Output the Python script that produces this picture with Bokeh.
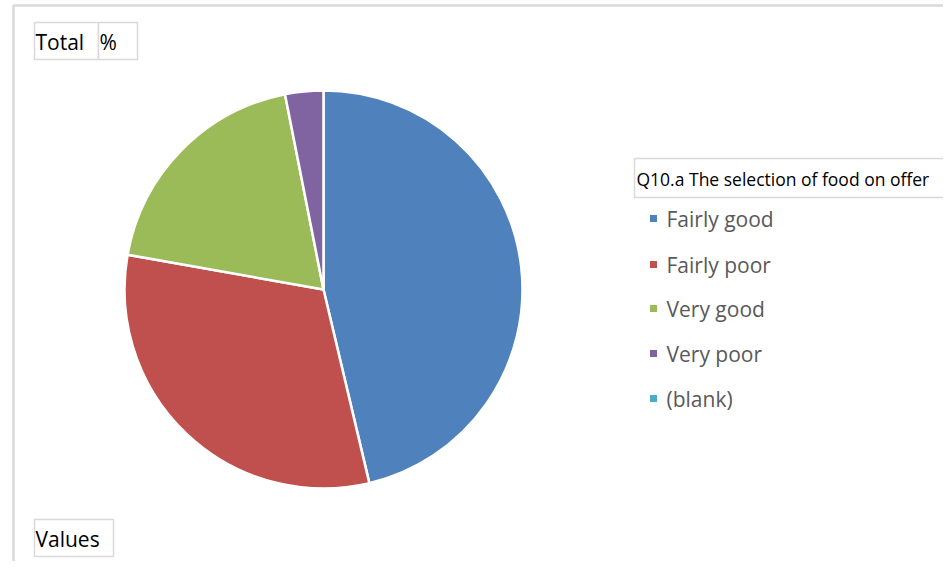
import math
from bokeh.plotting import figure
from bokeh.models import Range1d, ColumnDataSource
from bokeh.core.properties import value
from bokeh.embed import file_html
from bokeh.resources import INLINE

# ---- data ----
categories = ["Fairly good", "Fairly poor", "Very good", "Very poor", "(blank)"]
values = [46.3, 31.5, 19.1, 3.1, 0.0]
colors = ["#4F81BD", "#C0504D", "#9BBB59", "#8064A2", "#4BACC6"]
legend_title = "Q10.a The selection of food on offer"
filter_labels = ["Total", "%"]
values_label = "Values"

W, H = 943, 561
FONT = "Open Sans"

def X(px):
    return px

def Y(py):
    return H - py

p = figure(width=W, height=H, output_backend="svg", toolbar_location=None,
           x_range=Range1d(0, W), y_range=Range1d(0, H),
           min_border=0, min_border_left=0, min_border_right=0,
           min_border_top=0, min_border_bottom=0)
p.axis.visible = False
p.grid.visible = False
p.outline_line_color = None
p.background_fill_color = "white"
p.border_fill_color = "white"

# outer chart frame (light gray)
p.line([X(13), X(13), X(960)], [Y(580), Y(5), Y(5)], line_color="#d9d9d9", line_width=2.5)

# pie (zero-valued slices are not drawn)
total = sum(values)
starts, ends, cols, vals = [], [], [], []
cum = 0.0
for v, c in zip(values, colors):
    s = math.pi / 2 - 2 * math.pi * cum / total
    cum += v
    e = math.pi / 2 - 2 * math.pi * cum / total
    if v > 0:
        starts.append(s)
        ends.append(e)
        cols.append(c)
        vals.append(v)
src = ColumnDataSource(dict(start=starts, end=ends, color=cols, v=vals))
cx, cy, r = X(323), Y(289), 199
p.wedge(x=cx, y=cy, radius=r, start_angle="start", end_angle="end", direction="clock",
        fill_color="color", line_color="white", line_width=2.5, source=src)

# filter buttons
p.quad(left=[X(34), X(98), X(34)], right=[X(98), X(137), X(113)],
       top=[Y(22), Y(22), Y(519)], bottom=[Y(59), Y(59), Y(556)],
       fill_color="white", line_color="#d9d9d9", line_width=1.5)
p.text(x=[X(35), X(99), X(35)], y=[Y(41), Y(41), Y(538)],
       text=[filter_labels[0], filter_labels[1], values_label],
       text_font=value(FONT), text_font_size="21px", text_color="black",
       text_baseline="middle", text_align="left")

# legend title box (open to the right edge)
p.line([X(990), X(634), X(634), X(990)], [Y(158), Y(158), Y(197), Y(197)],
       line_color="#d9d9d9", line_width=1.5)
p.text(x=[X(636)], y=[Y(178)], text=[legend_title],
       text_font=value(FONT), text_font_size="17.5px", text_color="black",
       text_baseline="middle", text_align="left")

# legend items
row_y = [218, 264, 308, 353, 398]
p.rect(x=[X(653)] * len(categories), y=[Y(v) for v in row_y], width=7, height=7,
       fill_color=colors, line_color=None)
p.text(x=[X(666)] * len(categories), y=[Y(v) for v in row_y], text=categories,
       text_font=value(FONT), text_font_size="21px", text_color="#595959",
       text_baseline="middle", text_align="left")

open("out.html", "w").write(file_html(p, INLINE))
